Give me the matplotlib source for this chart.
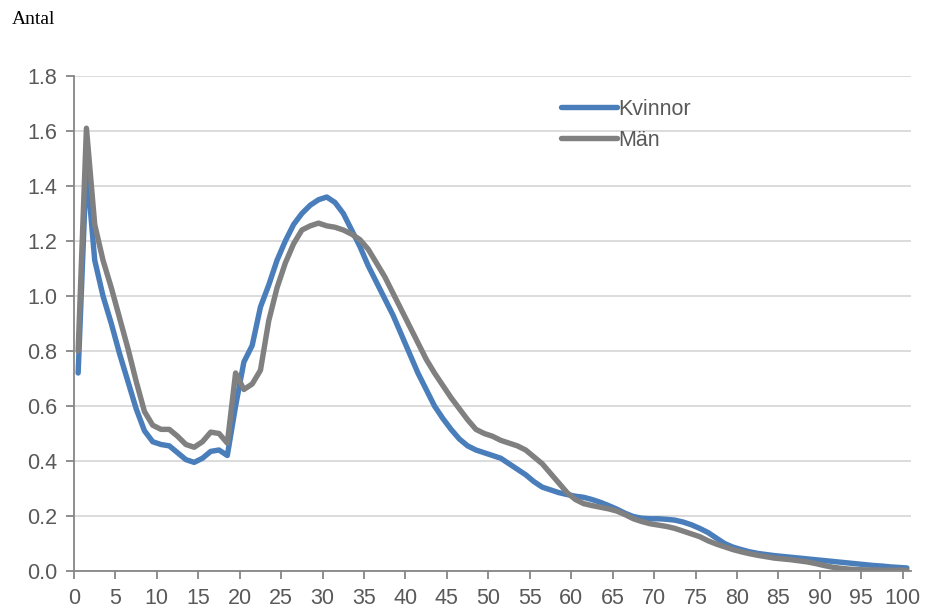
import matplotlib.pyplot as plt
import numpy as np

# Ålder 0-100, antal per ålder
ages = np.arange(0, 101)

kvinnor = [
    0.72, 1.48, 1.13, 1.00, 0.90, 0.79, 0.69, 0.59, 0.51, 0.47,
    0.46, 0.455, 0.43, 0.405, 0.395, 0.41, 0.435, 0.44, 0.42, 0.60,
    0.76, 0.82, 0.96, 1.04, 1.13, 1.20, 1.26, 1.30, 1.33, 1.35,
    1.36, 1.34, 1.30, 1.24, 1.18, 1.11, 1.05, 0.99, 0.93, 0.86,
    0.79, 0.72, 0.66, 0.60, 0.555, 0.515, 0.48, 0.455, 0.44, 0.43,
    0.42, 0.41, 0.39, 0.37, 0.35, 0.325, 0.305, 0.295, 0.285, 0.278,
    0.272, 0.268, 0.26, 0.25, 0.238, 0.225, 0.21, 0.198, 0.192, 0.19,
    0.19, 0.188, 0.185, 0.178, 0.168, 0.155, 0.14, 0.12, 0.10, 0.087,
    0.078, 0.07, 0.064, 0.06, 0.056, 0.053, 0.05, 0.047, 0.044, 0.041,
    0.038, 0.035, 0.032, 0.029, 0.026, 0.023, 0.02, 0.018, 0.015, 0.013,
    0.011,
]

man = [
    0.80, 1.61, 1.26, 1.13, 1.03, 0.92, 0.81, 0.69, 0.58, 0.53,
    0.515, 0.515, 0.49, 0.46, 0.45, 0.47, 0.505, 0.50, 0.465, 0.72,
    0.66, 0.68, 0.73, 0.91, 1.03, 1.12, 1.19, 1.24, 1.255, 1.265,
    1.255, 1.25, 1.24, 1.225, 1.205, 1.17, 1.12, 1.07, 1.01, 0.95,
    0.89, 0.83, 0.77, 0.72, 0.675, 0.63, 0.59, 0.55, 0.515, 0.50,
    0.49, 0.475, 0.465, 0.455, 0.44, 0.415, 0.39, 0.355, 0.32, 0.285,
    0.26, 0.245, 0.238, 0.232, 0.226, 0.218, 0.205, 0.19, 0.18, 0.172,
    0.167, 0.162, 0.155, 0.145, 0.135, 0.125, 0.11, 0.098, 0.088, 0.078,
    0.07, 0.063, 0.057, 0.052, 0.047, 0.044, 0.041, 0.037, 0.033, 0.027,
    0.02, 0.014, 0.01, 0.007, 0.005, 0.004, 0.004, 0.003, 0.003, 0.003,
    0.003,
]

x_ticks = list(range(0, 101, 5))
y_ticks = [0.0, 0.2, 0.4, 0.6, 0.8, 1.0, 1.2, 1.4, 1.6, 1.8]

plt.rcParams['font.family'] = ['Liberation Sans', 'DejaVu Sans']

fig = plt.figure(figsize=(9.28, 6.12), dpi=100)
ax = fig.add_axes([74 / 928, 1 - 571 / 612, (911 - 74) / 928, (571 - 76) / 612])

# punkterna ligger mitt i varje åldersintervall
ax.plot(ages + 0.5, kvinnor, color='#4a7ebb', lw=3.9, label='Kvinnor', solid_capstyle='round')
ax.plot(ages + 0.5, man, color='#808080', lw=3.9, label='Män', solid_capstyle='round')

ax.set_xlim(0, 101)
ax.set_ylim(0, 1.8)
ax.set_xticks(x_ticks)
ax.set_yticks(y_ticks)
ax.set_yticklabels([f'{v:.1f}' for v in y_ticks])
ax.grid(axis='y', color='#d9d9d9', lw=1.3)
ax.set_axisbelow(True)

for s in ['top', 'right']:
    ax.spines[s].set_visible(False)
for s in ['left', 'bottom']:
    ax.spines[s].set_color('#868686')
    ax.spines[s].set_linewidth(1.3)
ax.tick_params(axis='both', colors='#868686', length=6, width=1.3, direction='out',
               labelsize=15.5, labelcolor='#595959')
ax.tick_params(axis='x', pad=6)
ax.tick_params(axis='y', pad=6)

ax.legend(loc='upper left', bbox_to_anchor=(0.571, 0.971), frameon=False, fontsize=15.5,
          handlelength=2.6, handletextpad=0.1, labelspacing=0.45, borderaxespad=0,
          labelcolor='#595959')

fig.text(12 / 928, 1 - 20 / 612, 'Antal', family=['Liberation Serif', 'DejaVu Serif'],
         fontsize=14, color='black', va='center', ha='left')

fig.savefig('out.png', dpi=100)
